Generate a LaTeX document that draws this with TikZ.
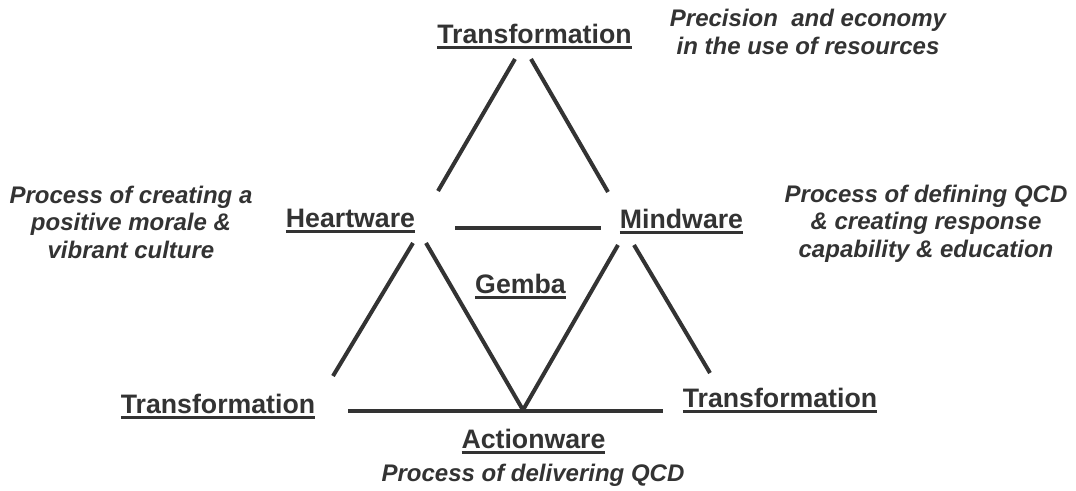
\documentclass[tikz,border=0pt]{standalone}
\usepackage{fontspec}
\setmainfont{Liberation Sans}
\definecolor{ink}{HTML}{333333}
\newcommand{\myul}[1]{\setbox0=\hbox{#1}\rlap{\rule[-6pt]{\wd0}{3pt}}\box0}
\tikzset{
  head/.style={anchor=base, inner sep=0pt, text=ink, font=\bfseries\fontsize{26.7}{30}\selectfont},
  desc/.style={anchor=base, inner sep=0pt, text=ink, align=center, font=\bfseries\itshape\fontsize{24}{27.5}\selectfont},
  diag/.style={draw=ink, line width=4pt},
  flat/.style={draw=ink, line width=4.5pt},
}
\begin{document}
\begin{tikzpicture}[x=1pt,y=-1pt]
\fill[white] (0,0) rectangle (1076,490);
\useasboundingbox (0,0) rectangle (1076,490);

% titles
\node[head] (tT) at (534.5,43) {\myul{Transformation}};
\node[head] (heart) at (350.5,227) {\myul{Heartware}};
\node[head] (mind) at (681.5,228) {\myul{Mindware}};
\node[head] (gemba) at (520.5,293) {\myul{Gemba}};
\node[head] (lT) at (218,413) {\myul{Transformation}};
\node[head] (rT) at (780,407) {\myul{Transformation}};
\node[head] (act) at (533.5,448) {\myul{Actionware}};

% descriptions (base anchor = baseline of the last line)
\node[desc] (dTop) at (808,54) {Precision\ \ and economy\\in the use of resources};
\node[desc] (dLeft) at (131,258) {Process of creating a\\positive morale \&\\vibrant culture};
\node[desc] (dRight) at (926,257) {Process of defining QCD\\\& creating response\\capability \& education};
\node[desc] (dBot) at (533,481) {Process of delivering QCD};

% line end points
\coordinate (a1) at (515,59);
\coordinate (a2) at (438,191);
\coordinate (b1) at (531,59);
\coordinate (b2) at (608,192);
\coordinate (m1) at (455,228);
\coordinate (m2) at (601,228);
\coordinate (h1) at (413,243);
\coordinate (h2) at (333,376);
\coordinate (h3) at (426,243);
\coordinate (v) at (523,410);
\coordinate (k3) at (618,245);
\coordinate (k1) at (634,245);
\coordinate (k2) at (710,373);
\coordinate (g1) at (348,411);
\coordinate (g2) at (663,411);

\draw[diag] (a1) -- (a2);
\draw[diag] (b1) -- (b2);
\draw[flat] (m1) -- (m2);
\draw[diag] (h1) -- (h2);
\draw[diag] (h3) -- (v);
\draw[diag] (k3) -- (v);
\draw[diag] (k1) -- (k2);
\draw[flat] (g1) -- (g2);
\end{tikzpicture}
\end{document}
